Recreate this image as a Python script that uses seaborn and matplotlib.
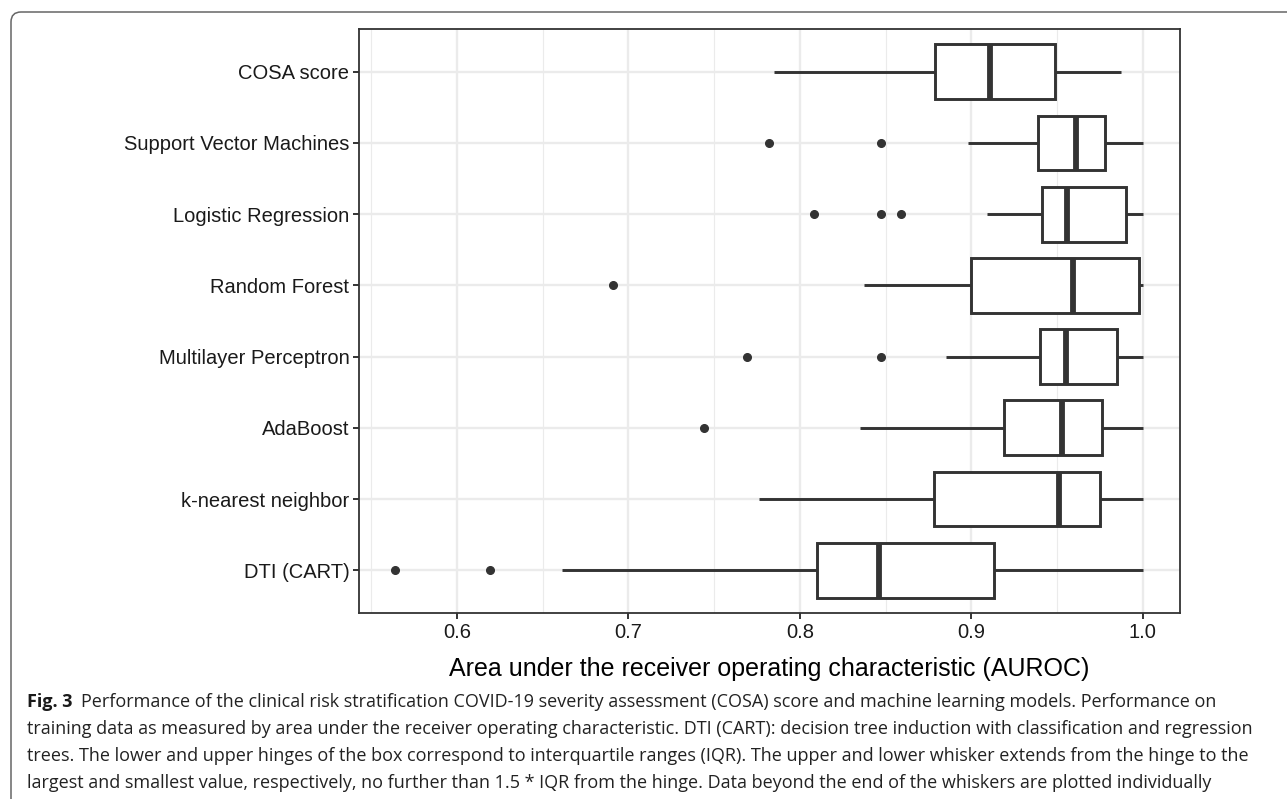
from matplotlib import pyplot as plt
from matplotlib.patches import FancyBboxPatch
from matplotlib.ticker import MultipleLocator
from pandas import DataFrame
import seaborn as sns

# Models, top to bottom
models = ['COSA score', 'Support Vector Machines', 'Logistic Regression',
          'Random Forest', 'Multilayer Perceptron', 'AdaBoost',
          'k-nearest neighbor', 'DTI (CART)']

# Box summaries (AUROC)
whisker_low = [0.785, 0.898, 0.909, 0.8375, 0.885, 0.835, 0.776, 0.661]
lower_hinge = [0.879, 0.939, 0.941, 0.900, 0.940, 0.919, 0.878, 0.810]
median = [0.911, 0.961, 0.956, 0.959, 0.955, 0.953, 0.951, 0.846]
upper_hinge = [0.949, 0.978, 0.990, 0.998, 0.985, 0.976, 0.975, 0.913]
whisker_high = [0.987, 1.0, 1.0, 1.0, 1.0, 1.0, 1.0, 1.0]
outliers = [[], [0.782, 0.847], [0.808, 0.847, 0.859], [0.691],
            [0.769, 0.847], [0.744], [], [0.564, 0.619]]

x_ticks = [0.6, 0.7, 0.8, 0.9, 1.0]
x_label = 'Area under the receiver operating characteristic (AUROC)'

caption_bold = 'Fig. 3'
caption_lines = [
    'Performance of the clinical risk stratification COVID-19 severity assessment (COSA) score and machine learning models. Performance on',
    'training data as measured by area under the receiver operating characteristic. DTI (CART): decision tree induction with classification and regression',
    'trees. The lower and upper hinges of the box correspond to interquartile ranges (IQR). The upper and lower whisker extends from the hinge to the',
    'largest and smallest value, respectively, no further than 1.5 * IQR from the hinge. Data beyond the end of the whiskers are plotted individually',
]

LINE = '#333333'
GRID = '#EBEBEB'


def summary_to_sample(lo, q1, med, q3, hi, outs):
    """Builds a sample whose linear quartiles equal the given hinges."""
    k = len(outs) + 1
    return list(outs) + [lo] + [q1] * k + [med] * k + [q3] * k + [hi]


# Long-form table for seaborn
rows = []
for i, name in enumerate(models):
    for v in summary_to_sample(whisker_low[i], lower_hinge[i], median[i],
                               upper_hinge[i], whisker_high[i], outliers[i]):
        rows.append({'model': name, 'auroc': v})
df = DataFrame(rows)

sns.set_theme(style='white')
plt.rcParams['font.family'] = ['Liberation Sans', 'DejaVu Sans']

W, H = 1287, 799
fig = plt.figure(figsize=(W / 100, H / 100), dpi=100)
ax = fig.add_axes([359 / W, 1 - 613 / H, (1180 - 359) / W, (613 - 29) / H])

sns.boxplot(data=df, x='auroc', y='model', order=models, orient='h',
            width=0.77, color='white', saturation=1, linecolor=LINE,
            linewidth=2.1, whis=1.5, showcaps=False, ax=ax,
            medianprops=dict(color=LINE, linewidth=4.2),
            flierprops=dict(marker='o', markerfacecolor=LINE,
                            markeredgecolor=LINE, markersize=5.5))

# Axes settings
ax.set_xlim(0.5428, 1.0217)
ax.set_ylim(7.6, -0.6)
ax.set_xticks(x_ticks)
ax.set_xticklabels([f'{t:.1f}' for t in x_ticks])
ax.xaxis.set_minor_locator(MultipleLocator(0.05))
ax.set_axisbelow(True)
ax.grid(which='major', axis='both', color=GRID, linewidth=1.7)
ax.grid(which='minor', axis='x', color=GRID, linewidth=0.8)
ax.tick_params(axis='both', which='major', length=4, width=1.4, color=LINE,
               labelsize=14.5, labelcolor='#1a1a1a', pad=3, bottom=True, left=True)
ax.tick_params(axis='x', which='minor', length=0)
ax.set_ylabel('')
ax.set_xlabel(x_label, fontsize=18, color='black', labelpad=11)
for spine in ax.spines.values():
    spine.set_color(LINE)
    spine.set_linewidth(1.3)

# Rounded outer frame
frame = FancyBboxPatch((0.11, -1.0), 14.0, 7.99 - 0.12 + 1.0,
                       boxstyle='round,pad=0,rounding_size=0.1',
                       transform=fig.dpi_scale_trans, fill=False,
                       edgecolor='#666666', linewidth=1.1)
fig.patches.append(frame)

# Caption
cap_font = ['Open Sans', 'DejaVu Sans']
y0, dy = 1 - 702 / H, 27 / H
bold = fig.text(27 / W, y0, caption_bold, fontsize=14, fontweight='bold',
                family=cap_font, va='center', ha='left', color='#1a1a1a')
first = ax.annotate(caption_lines[0], xy=(1, 0.5), xycoords=bold,
                    xytext=(6, 0), textcoords='offset points', fontsize=14,
                    family=cap_font, va='center', ha='left', color='#222222',
                    annotation_clip=False)
others = [fig.text(27 / W, y0 - i * dy, line, fontsize=14, family=cap_font,
                   va='center', ha='left', color='#222222')
          for i, line in enumerate(caption_lines[1:], start=1)]

# Shrink the caption so its longest line spans the frame like the original
renderer = fig.canvas.get_renderer()
width = others[0].get_window_extent(renderer).width
scale = 1238 / width
for t in [bold, first] + others:
    t.set_fontsize(14 * scale)

fig.savefig('out.png', dpi=100)
plt.close(fig)
